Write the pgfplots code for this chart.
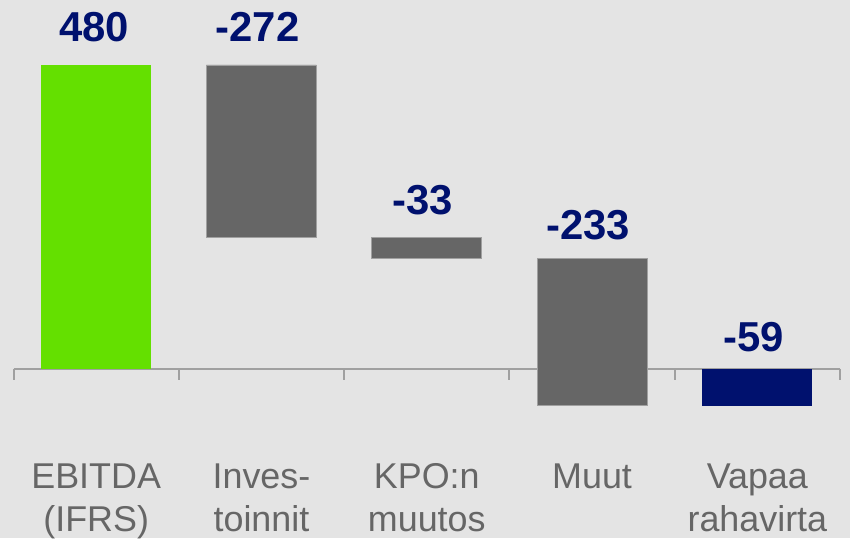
\documentclass[border=0pt]{standalone}
\usepackage{fontspec}
\setmainfont{Liberation Sans}
\usepackage{pgfplots}
\usepackage{pgfplotstable}
\pgfplotsset{compat=1.18}
\definecolor{bg}{HTML}{E4E4E4}
\definecolor{cgreen}{HTML}{64E000}
\definecolor{cgray}{HTML}{666666}
\definecolor{cedge}{HTML}{A0A0A0}
\definecolor{cnavy}{HTML}{00116E}
\definecolor{ctext}{HTML}{666666}
\newcommand{\numfont}{\fontsize{42}{48}\selectfont\bfseries}
\newcommand{\catfont}{\fontsize{36}{43}\selectfont}

% waterfall: invisible offset + visible step
\pgfplotstableread{
x   offset gray green navy
0.5 0      0    480   0
1.5 208    272  0     0
2.5 175    33   0     0
3.5 -58    233  0     0
4.5 0      0    0     -59
}\wf

\begin{document}
\begin{tikzpicture}
\fill[bg] (0,0) rectangle (850bp,538bp);
\begin{axis}[
  at={(0,0)}, anchor=south west,
  width=850bp, height=538bp, scale only axis,
  xmin=-0.0817, xmax=5.0605, ymin=-266.9, ymax=582.6,
  axis lines=none, ticks=none, clip=false,
  ybar stacked, stack negative=on previous, bar width=110bp,
]
\addplot[draw=none, fill=none] table[x=x, y=offset] {\wf};
\addplot[draw=cedge, line width=0.8bp, fill=cgray] table[x=x, y=gray] {\wf};
\addplot[draw=none, fill=cgreen] table[x=x, y=green] {\wf};
\addplot[draw=none, fill=cnavy] table[x=x, y=navy] {\wf};

\draw[cedge, line width=2bp] (axis cs:0,0) -- (axis cs:5,0);
\pgfplotsinvokeforeach{0,...,5}{
  \draw[cedge, line width=2bp] (axis cs:#1,0) -- ++(0pt,-11bp);
}

\node[text=cnavy, font=\numfont, anchor=base, yshift=23bp, xshift=-2bp] at (axis cs:0.5,480) {480};
\node[text=cnavy, font=\numfont, anchor=base, yshift=23bp, xshift=-4bp] at (axis cs:1.5,480) {-272};
\node[text=cnavy, font=\numfont, anchor=base, yshift=23bp, xshift=-4bp] at (axis cs:2.5,208) {-33};
\node[text=cnavy, font=\numfont, anchor=base, yshift=19bp, xshift=-4bp] at (axis cs:3.5,175) {-233};
\node[text=cnavy, font=\numfont, anchor=base, yshift=17bp, xshift=-4bp] at (axis cs:4.5,0) {-59};

\node[text=ctext, font=\catfont, anchor=base, yshift=-120bp] at (axis cs:0.5,0) {EBITDA};
\node[text=ctext, font=\catfont, anchor=base, yshift=-163bp] at (axis cs:0.5,0) {(IFRS)};
\node[text=ctext, font=\catfont, anchor=base, yshift=-120bp] at (axis cs:1.5,0) {Inves-};
\node[text=ctext, font=\catfont, anchor=base, yshift=-163bp] at (axis cs:1.5,0) {toinnit};
\node[text=ctext, font=\catfont, anchor=base, yshift=-120bp] at (axis cs:2.5,0) {KPO:n};
\node[text=ctext, font=\catfont, anchor=base, yshift=-163bp] at (axis cs:2.5,0) {muutos};
\node[text=ctext, font=\catfont, anchor=base, yshift=-120bp] at (axis cs:3.5,0) {Muut};
\node[text=ctext, font=\catfont, anchor=base, yshift=-120bp] at (axis cs:4.5,0) {Vapaa};
\node[text=ctext, font=\catfont, anchor=base, yshift=-163bp] at (axis cs:4.5,0) {rahavirta};
\end{axis}
\end{tikzpicture}
\end{document}
